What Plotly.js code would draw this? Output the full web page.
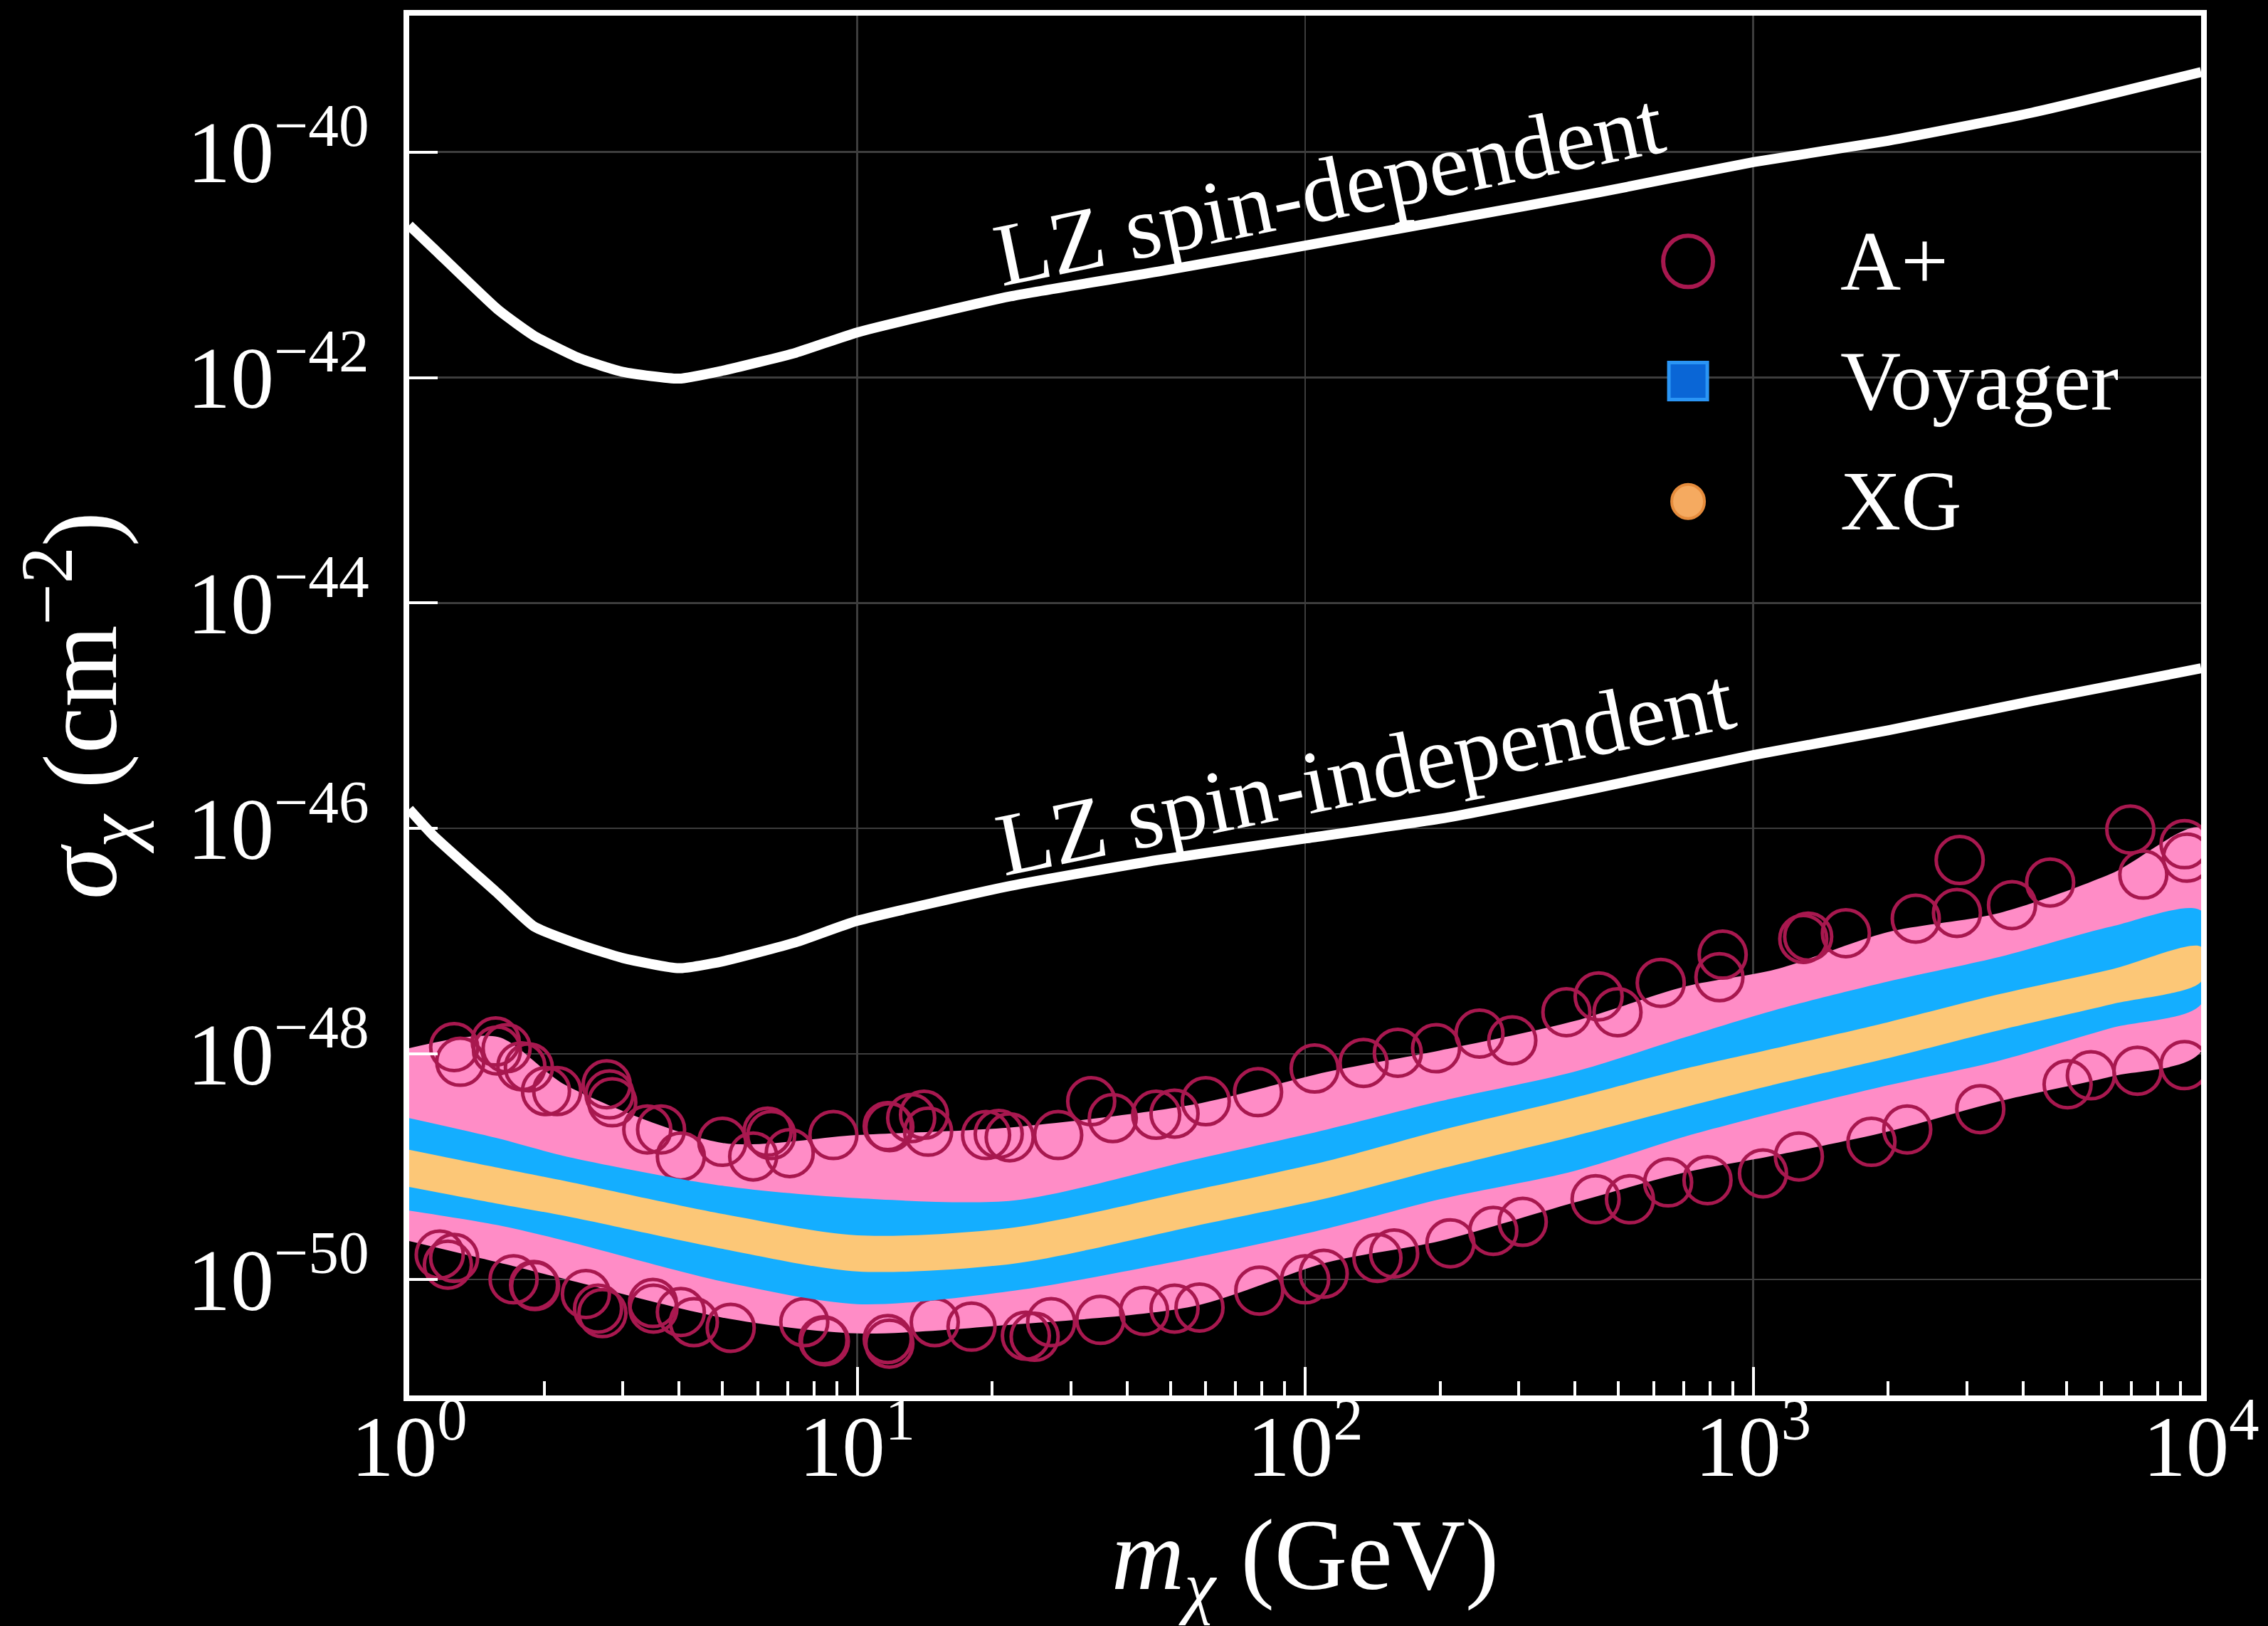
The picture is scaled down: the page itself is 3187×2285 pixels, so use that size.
<!DOCTYPE html>
<html>
<head>
<meta charset="utf-8">
<script src="https://cdn.plot.ly/plotly-3.0.1.min.js"></script>
<style>html,body{margin:0;padding:0;background:#000;}</style>
</head>
<body>
<div id="chart" style="width:3187px;height:2285px;"></div>
<script>
// ---------------- data (log10 of sigma in cm^-2) ----------------
const lzMass = [1, 1.13, 1.58, 1.9, 2.4, 3.0, 4.0, 5.0, 7.3, 10, 22, 47, 100, 210, 450, 1000, 2000, 4200, 10000];
const lzSpinDepLog = [-40.65, -40.85, -41.40, -41.63, -41.83, -41.95, -42.01, -41.94, -41.78, -41.60, -41.28, -41.06, -40.83, -40.60, -40.36, -40.09, -39.90, -39.65, -39.29];
const lzSpinIndLog = [-45.83, -46.06, -46.58, -46.87, -47.03, -47.15, -47.24, -47.18, -47.01, -46.82, -46.51, -46.28, -46.09, -45.90, -45.64, -45.35, -45.13, -44.87, -44.58];

const bandMass = [1, 1.58, 2.24, 5.01, 10, 22.4, 56.2, 112, 200, 398, 708, 1122, 1995, 3548, 6310, 10000];
const aplusUpperLog = [-47.95, -47.85, -48.28, -48.79, -48.72, -48.65, -48.45, -48.16, -47.97, -47.71, -47.40, -47.25, -46.92, -46.75, -46.40, -46.00];
const aplusLowerLog = [-49.66, -49.85, -50.00, -50.34, -50.48, -50.40, -50.24, -49.85, -49.66, -49.32, -49.05, -48.90, -48.69, -48.42, -48.20, -47.98];
const voyagerUpperLog = [-48.57, -48.75, -48.91, -49.17, -49.28, -49.30, -48.94, -48.67, -48.42, -48.16, -47.85, -47.61, -47.36, -47.14, -46.87, -46.73];
const voyagerLowerLog = [-49.39, -49.52, -49.66, -50.02, -50.22, -50.10, -49.81, -49.55, -49.29, -49.04, -48.73, -48.52, -48.28, -48.06, -47.77, -47.56];
const xgUpperLog = [-48.85, -49.01, -49.13, -49.42, -49.61, -49.54, -49.21, -48.95, -48.68, -48.39, -48.13, -47.95, -47.72, -47.47, -47.25, -47.05];
const xgLowerLog = [-49.18, -49.33, -49.44, -49.73, -49.93, -49.86, -49.53, -49.28, -49.02, -48.73, -48.47, -48.27, -48.04, -47.79, -47.56, -47.36];

// individually visible A+ points (open circles) along the edges of the A+ cloud
const aplusMass = [1.26, 1.30, 1.56, 1.57, 1.65, 1.78, 1.85, 2.02, 2.14, 2.76, 2.80, 2.84, 3.40, 3.65, 4.04, 5.0, 5.86, 6.31, 6.43, 7.07, 8.85, 11.7, 11.8, 13.2, 14.1, 14.4, 19.4, 20.7, 21.9, 28.1, 33.3, 37.2, 46.5, 51.1, 60.0, 78.5, 105, 135, 161, 196, 245, 290, 383, 452, 498, 622, 841, 855, 1294, 1327, 1611, 2307, 2851, 2891, 3784, 4603, 6950, 7430, 9183, 9300,
  1.17, 1.22, 1.26, 1.71, 1.90, 1.91, 2.48, 2.64, 2.70, 3.50, 3.51, 4.04, 4.32, 5.22, 7.62, 8.41, 8.47, 11.7, 11.8, 14.9, 18.0, 23.8, 24.9, 27.1, 34.9, 43.7, 51.1, 58.1, 79, 100, 110, 145, 158, 211, 263, 306, 445, 531, 646, 791, 1052, 1265, 1837, 2208, 3214, 5035, 5675, 7211, 9183];
const aplusLog = [-47.94, -48.07, -47.89, -47.97, -47.95, -48.11, -48.12, -48.33, -48.33, -48.27, -48.36, -48.43, -48.67, -48.67, -48.91, -48.78, -48.91, -48.69, -48.72, -48.88, -48.72, -48.64, -48.65, -48.57, -48.54, -48.69, -48.72, -48.71, -48.74, -48.72, -48.42, -48.57, -48.54, -48.53, -48.42, -48.34, -48.13, -48.08, -47.99, -47.95, -47.82, -47.88, -47.63, -47.49, -47.63, -47.37, -47.32, -47.12, -46.98, -46.96, -46.93, -46.80, -46.75, -46.28, -46.68, -46.48, -46.01, -46.41, -46.14, -46.26,
  -49.78, -49.87, -49.81, -50.00, -50.05, -50.06, -50.13, -50.26, -50.30, -50.21, -50.26, -50.29, -50.38, -50.43, -50.38, -50.54, -50.55, -50.53, -50.57, -50.38, -50.42, -50.50, -50.51, -50.38, -50.36, -50.28, -50.26, -50.25, -50.10, -50.00, -49.95, -49.81, -49.77, -49.68, -49.57, -49.49, -49.29, -49.29, -49.14, -49.12, -49.06, -48.91, -48.78, -48.67, -48.49, -48.27, -48.19, -48.15, -48.10];

const seriesNames = ['A+', 'Voyager', 'XG'];
const curveLabels = ['LZ spin-dependent', 'LZ spin-independent'];
const xTickVals = [1, 10, 100, 1000, 10000];
const xTickText = ['10<sup>0</sup>', '10<sup>1</sup>', '10<sup>2</sup>', '10<sup>3</sup>', '10<sup>4</sup>'];
const yTickVals = [1e-50, 1e-48, 1e-46, 1e-44, 1e-42, 1e-40];
const yTickText = ['10<sup>\u221250</sup>', '10<sup>\u221248</sup>', '10<sup>\u221246</sup>', '10<sup>\u221244</sup>', '10<sup>\u221242</sup>', '10<sup>\u221240</sup>'];

// ---------------- helpers ----------------
const p10 = v => Math.pow(10, v);
function band(mass, upLog, lowLog) {
  return {
    x: mass.concat(mass.slice().reverse()),
    y: upLog.map(p10).concat(lowLog.slice().reverse().map(p10))
  };
}
const FONT = '"Liberation Serif", "DejaVu Serif", serif';
const CRIMSON = '#a8184f';
const PINK = '#ff8cc6';
const BLUE = '#14aeff';
const ORANGE = '#fcc777';

const aB = band(bandMass, aplusUpperLog, aplusLowerLog);
const vB = band(bandMass, voyagerUpperLog, voyagerLowerLog);
const xB = band(bandMass, xgUpperLog, xgLowerLog);

const traces = [
  {x: aB.x, y: aB.y, type: 'scatter', mode: 'lines', fill: 'toself', fillcolor: PINK,
   line: {width: 0, color: PINK, shape: 'spline', smoothing: 0.8}, hoverinfo: 'skip', showlegend: false, name: seriesNames[0]},
  {x: aplusMass, y: aplusLog.map(p10), type: 'scatter', mode: 'markers', name: seriesNames[0],
   marker: {symbol: 'circle-open', size: 66, color: CRIMSON, line: {width: 5, color: CRIMSON}}, showlegend: false},
  {x: vB.x, y: vB.y, type: 'scatter', mode: 'lines', fill: 'toself', fillcolor: BLUE,
   line: {width: 0, color: BLUE, shape: 'spline', smoothing: 0.8}, hoverinfo: 'skip', showlegend: false, name: seriesNames[1]},
  {x: xB.x, y: xB.y, type: 'scatter', mode: 'lines', fill: 'toself', fillcolor: ORANGE,
   line: {width: 0, color: ORANGE, shape: 'spline', smoothing: 0.8}, hoverinfo: 'skip', showlegend: false, name: seriesNames[2]},
  {x: lzMass, y: lzSpinDepLog.map(p10), type: 'scatter', mode: 'lines', name: curveLabels[0],
   line: {color: '#ffffff', width: 14, shape: 'spline', smoothing: 0.5}, showlegend: false},
  {x: lzMass, y: lzSpinIndLog.map(p10), type: 'scatter', mode: 'lines', name: curveLabels[1],
   line: {color: '#ffffff', width: 14, shape: 'spline', smoothing: 0.5}, showlegend: false}
];

const minorVals = [];
for (let d = 0; d < 4; d++) for (let k = 2; k <= 9; k++) minorVals.push(k * Math.pow(10, d));

// custom legend (markers as shapes, labels as annotations)
const legX = 0.7137, legTextX = 0.7978;
const legY = [0.8219, 0.7352, 0.6479];

const shapes = [
  {type: 'circle', xref: 'paper', yref: 'paper', xsizemode: 'pixel', ysizemode: 'pixel',
   xanchor: legX, yanchor: legY[0], x0: -35, x1: 35, y0: -36, y1: 36,
   line: {color: CRIMSON, width: 6}, fillcolor: 'rgba(0,0,0,0)'},
  {type: 'rect', xref: 'paper', yref: 'paper', xsizemode: 'pixel', ysizemode: 'pixel',
   xanchor: legX, yanchor: legY[1], x0: -27, x1: 27, y0: -26, y1: 26,
   line: {color: '#2a95f5', width: 5}, fillcolor: '#0a66d6'},
  {type: 'circle', xref: 'paper', yref: 'paper', xsizemode: 'pixel', ysizemode: 'pixel',
   xanchor: legX, yanchor: legY[2], x0: -23, x1: 23, y0: -24, y1: 24,
   line: {color: '#e68c3c', width: 4}, fillcolor: '#f5aa60'}
];

const annotations = [
  {x: Math.log10(113), y: -40.33, xref: 'x', yref: 'y', text: curveLabels[0], showarrow: false,
   textangle: -11.5, font: {family: FONT, size: 126, color: '#ffffff'}},
  {x: Math.log10(136), y: -45.50, xref: 'x', yref: 'y', text: curveLabels[1], showarrow: false,
   textangle: -11.5, font: {family: FONT, size: 126, color: '#ffffff'}}
];
seriesNames.forEach((n, i) => annotations.push({
  x: legTextX, y: legY[i], xref: 'paper', yref: 'paper', xanchor: 'left', yanchor: 'middle',
  text: n, showarrow: false, font: {family: FONT, size: 118, color: '#ffffff'}
}));

const layout = {
  width: 3187, height: 2285,
  paper_bgcolor: '#000000', plot_bgcolor: '#000000',
  margin: {l: 575, r: 94, t: 22, b: 324},
  font: {family: FONT, color: '#ffffff', size: 116},
  showlegend: false,
  xaxis: {
    type: 'log', range: [0, 4], autorange: false,
    tickmode: 'array', tickvals: xTickVals, ticktext: xTickText,
    ticks: 'inside', ticklen: 40, tickwidth: 4, tickcolor: '#ffffff',
    minor: {tickmode: 'array', tickvals: minorVals, ticks: 'inside', ticklen: 20, tickwidth: 4, tickcolor: '#ffffff', showgrid: false},
    showline: true, linecolor: '#ffffff', linewidth: 8, mirror: true,
    showgrid: true, gridcolor: '#3d3d3d', gridwidth: 2.5,
    zeroline: false,
    ticklabelstandoff: -40,
    tickfont: {family: FONT, size: 121, color: '#ffffff'},
    title: {text: '<i>m</i><sub><i>\u03c7</i></sub> (GeV)', font: {family: FONT, size: 142, color: '#ffffff'}, standoff: 66}
  },
  yaxis: {
    type: 'log', range: [-51.03, -38.79], autorange: false,
    tickmode: 'array', tickvals: yTickVals, ticktext: yTickText,
    ticks: 'inside', ticklen: 40, tickwidth: 4, tickcolor: '#ffffff',
    showline: true, linecolor: '#ffffff', linewidth: 8, mirror: true,
    showgrid: true, gridcolor: '#3d3d3d', gridwidth: 2.5,
    zeroline: false,
    ticklabelstandoff: 24,
    tickfont: {family: FONT, size: 122, color: '#ffffff'},
    title: {text: '<i>\u03c3</i><sub><i>\u03c7</i></sub> (cm<sup>\u22122</sup>)', font: {family: FONT, size: 148, color: '#ffffff'}, standoff: 52}
  },
  shapes: shapes,
  annotations: annotations
};

Plotly.newPlot('chart', traces, layout, {displayModeBar: false, staticPlot: true});
</script>
</body>
</html>
